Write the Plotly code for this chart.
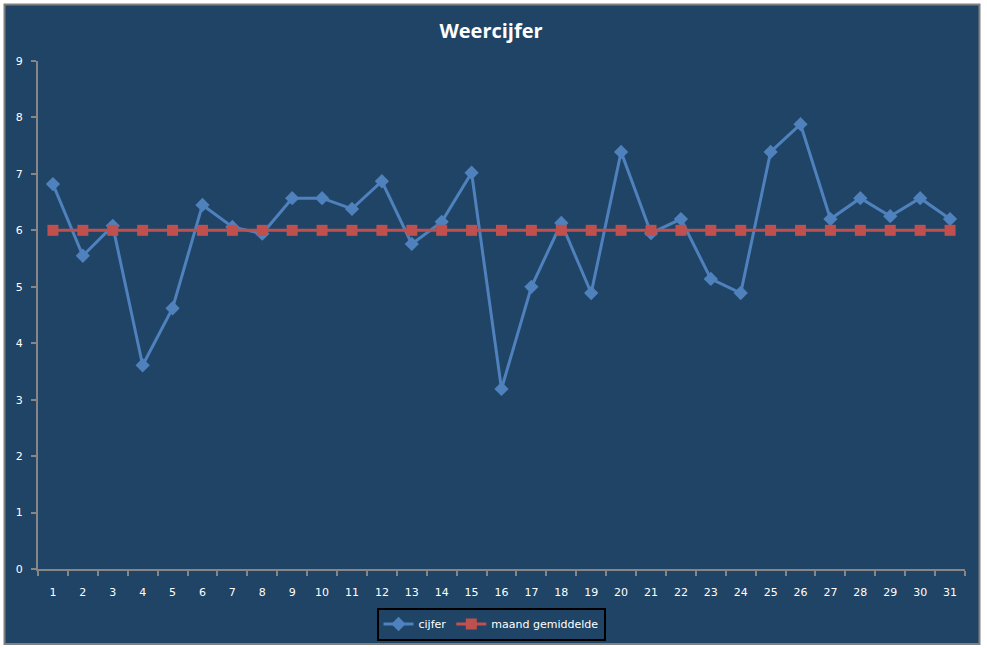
import plotly.graph_objects as go

days = list(range(1, 32))
cijfer = [6.82, 5.55, 6.08, 3.61, 4.62, 6.45, 6.06, 5.94, 6.57, 6.57,
          6.38, 6.87, 5.76, 6.15, 7.02, 3.19, 5.00, 6.13, 4.89, 7.39,
          5.95, 6.20, 5.14, 4.89, 7.39, 7.88, 6.20, 6.57, 6.25, 6.57, 6.20]
gemiddelde = [6.0] * 31

W, H = 987, 648
ML, MR, MT, MB = 38, 22, 61, 79
PW, PH = W - ML - MR, H - MT - MB
BG = "#1F4466"
AX = "#868686"

def px(x):
    return (x - ML) / PW

def py(y):
    return (H - MB - y) / PH

fig = go.Figure()
fig.add_trace(go.Scatter(
    x=days, y=cijfer, name="cijfer", mode="lines+markers",
    line=dict(color="#4F81BD", width=3),
    marker=dict(symbol="diamond", size=11, color="#4F81BD"),
))
fig.add_trace(go.Scatter(
    x=days, y=gemiddelde, name="maand gemiddelde", mode="lines+markers",
    line=dict(color="#C0504D", width=3),
    marker=dict(symbol="square", size=11, color="#C0504D"),
))

fig.add_shape(type="rect", xref="paper", yref="paper",
              x0=px(4.5), x1=px(979.5), y0=py(644), y1=py(4.5),
              line=dict(color="#808080", width=2), fillcolor=BG, layer="below")

fig.update_layout(
    width=W, height=H,
    margin=dict(l=ML, r=MR, t=MT, b=MB, autoexpand=False),
    paper_bgcolor="white", plot_bgcolor=BG,
    font=dict(family="DejaVu Sans", size=11, color="white"),
    title=dict(text="<b>Weercijfer</b>", x=px(491), xref="paper", xanchor="center",
               y=1 - 31 / H, yref="container", yanchor="middle",
               font=dict(family="Open Sans", size=20, color="white")),
    showlegend=True,
    legend=dict(orientation="h", x=px(491), xanchor="center", y=py(624), yanchor="middle",
                bgcolor=BG, bordercolor="black", borderwidth=2,
                font=dict(family="DejaVu Sans", size=11, color="white"),
                itemwidth=30, tracegroupgap=0),
)
fig.update_xaxes(
    range=[0.5, 31.5], tickmode="array", tickvals=days, ticktext=[str(d) for d in days],
    ticks="", showgrid=False, zeroline=False, automargin=False,
    showline=True, linecolor=AX, linewidth=2, ticklabelstandoff=12,
    minor=dict(tickvals=[d + 0.5 for d in range(0, 32)], ticks="outside", ticklen=5,
               tickcolor=AX, tickwidth=2, showgrid=False),
)
fig.update_yaxes(
    range=[0, 9], tickmode="array", tickvals=list(range(10)), automargin=False,
    ticks="outside", ticklen=5, tickcolor=AX, tickwidth=2,
    showgrid=False, zeroline=False,
    showline=True, linecolor=AX, linewidth=2, ticklabelstandoff=6,
)

fig.write_html("out.html")
